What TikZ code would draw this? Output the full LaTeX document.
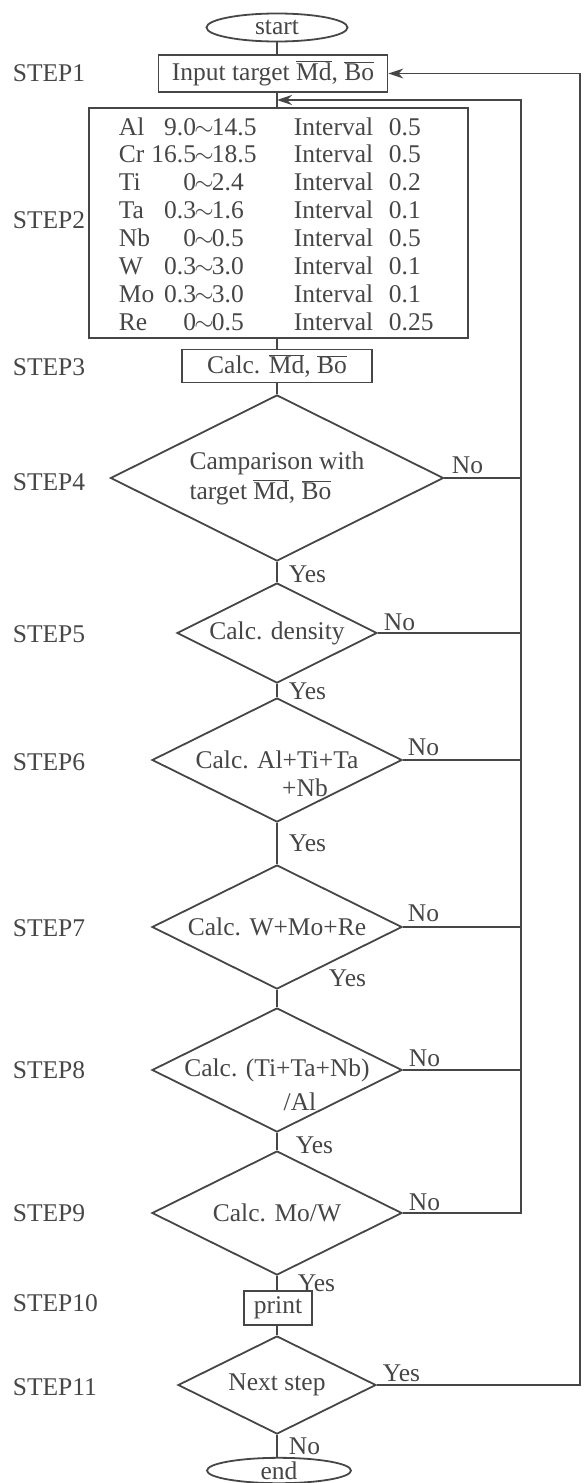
\documentclass[tikz,border=0pt]{standalone}
\usepackage{fontspec}
\setmainfont{Liberation Serif}
\usetikzlibrary{shapes.geometric,arrows.meta}

\definecolor{ink}{RGB}{70,70,70}
\newcommand{\ovl}[1]{$\overline{\hbox{#1}}$}

\tikzset{every picture/.style={line width=1.8pt}}
\tikzset{
  txt/.style={text=ink, inner sep=0pt, font=\fontsize{25.5}{28}\selectfont},
  termbox/.style={txt, draw=ink, ellipse},
  procbox/.style={txt, draw=ink, rectangle},
  decbox/.style={txt, draw=ink, diamond, aspect=2},
  flow/.style={draw=ink},
  back/.style={draw=ink, -{Stealth[length=15pt,width=10pt]}},
}

\begin{document}
\begin{tikzpicture}[x=1pt,y=1pt,yscale=-1]
\useasboundingbox (0,0) rectangle (584,1483);

%Shape: start / end
\node[termbox, minimum width=141, minimum height=28] (start) at (277,27.5) {start};
\node[termbox, minimum width=144, minimum height=23] (end) at (279,1470.5) {end};

%Shape: boxes
\node[procbox, minimum width=229, minimum height=37] (input) at (273,73.5) {Input target \ovl{Md}, \ovl{Bo}};
\node[procbox, minimum width=379, minimum height=230] (step2) at (278.5,223) {};
\node[procbox, minimum width=190, minimum height=33] (calc) at (277,366) {Calc. \ovl{Md}, \ovl{Bo}};
\node[procbox, minimum width=68, minimum height=34] (print) at (278,1308) {print};

%Shape: diamonds
\node[decbox, minimum width=333, minimum height=166, align=left, font=\fontsize{25.5}{30}\selectfont] (d4) at (277,478) {Camparison with\\target \ovl{Md}, \ovl{Bo}};
\node[decbox, minimum width=200, minimum height=100] (d5) at (277,633) {Calc. density};
\node[decbox, minimum width=250, minimum height=124] (d6) at (277,760) {Calc. Al+Ti+Ta};
\node[decbox, minimum width=250, minimum height=124] (d7) at (277,927) {Calc. W+Mo+Re};
\node[decbox, minimum width=250, minimum height=124] (d8) at (277,1070) {Calc. (Ti+Ta+Nb)};
\node[decbox, minimum width=250, minimum height=124] (d9) at (277,1213) {Calc. Mo/W};
\node[decbox, minimum width=198, minimum height=98] (d11) at (277,1385) {Next step};
\node[txt] (d6x) at (305,788) {+Nb};
\node[txt] (d8x) at (300,1102) {/Al};

% Text Node: ranges
\foreach \el/\lo/\hi/\st [count=\i] in {Al/9.0/14.5/0.5, Cr/16.5/18.5/0.5, Ti/0/2.4/0.2, Ta/0.3/1.6/0.1, Nb/0/0.5/0.5, W/0.3/3.0/0.1, Mo/0.3/3.0/0.1, Re/0/0.5/0.25}{
  \pgfmathsetmacro\yy{135+27.9*(\i-1)}
  \node[txt, anchor=base west] (el\i) at (118,\yy) {\el};
  \node[txt, anchor=base east] (lo\i) at (197,\yy) {\lo};
  \node[txt, anchor=base] (sim\i) at (204,\yy) {$\sim$};
  \node[txt, anchor=base west] (hi\i) at (211,\yy) {\hi};
  \node[txt, anchor=base west] (iv\i) at (293,\yy) {Interval};
  \node[txt, anchor=base west] (st\i) at (388,\yy) {\st};
}

% Text Node: step labels
\foreach \s/\y in {1/73, 2/220, 3/367, 4/482, 5/634, 6/762, 7/928, 8/1070, 9/1213, 10/1303, 11/1387}
  \node[txt, anchor=west] (lab\s) at (12,\y) {STEP\s};

% Text Node: yes / no
\foreach \n/\w/\x/\y in {no4/No/451/465, yes4/Yes/288/574, no5/No/383/622, yes5/Yes/288/691, no6/No/407/747, yes6/Yes/288/843, no7/No/407/913, yes7/Yes/328/978, no8/No/408/1058, yes8/Yes/295/1145, no9/No/408/1202, yes9/Yes/297/1283, yes11/Yes/382/1373, no11/No/288/1446}
  \node[txt, anchor=west] (\n) at (\x,\y) {\w};

%Straight Lines
\coordinate (spine) at (277,0);
\coordinate (inner) at (521,0);
\coordinate (outer) at (580,0);
\coordinate (loopin) at (277,100);
\foreach \a/\b in {start/input, input/step2, step2/calc, calc/d4, d4/d5, d5/d6, d6/d7, d7/d8, d8/d9, d9/print, print/d11, d11/end}
  \draw[flow] (\a.south -| spine) -- (\b.north -| spine);
\foreach \d in {d4,d5,d6,d7,d8}
  \draw[flow] (\d.east) -- (\d.east -| inner);
\draw[back] (d9.east) -- (d9.east -| inner) -- (inner |- loopin) -- (loopin);
\draw[back] (d11.east) -- (d11.east -| outer) -- (outer |- input.east) -- (input.east);

\end{tikzpicture}
\end{document}
